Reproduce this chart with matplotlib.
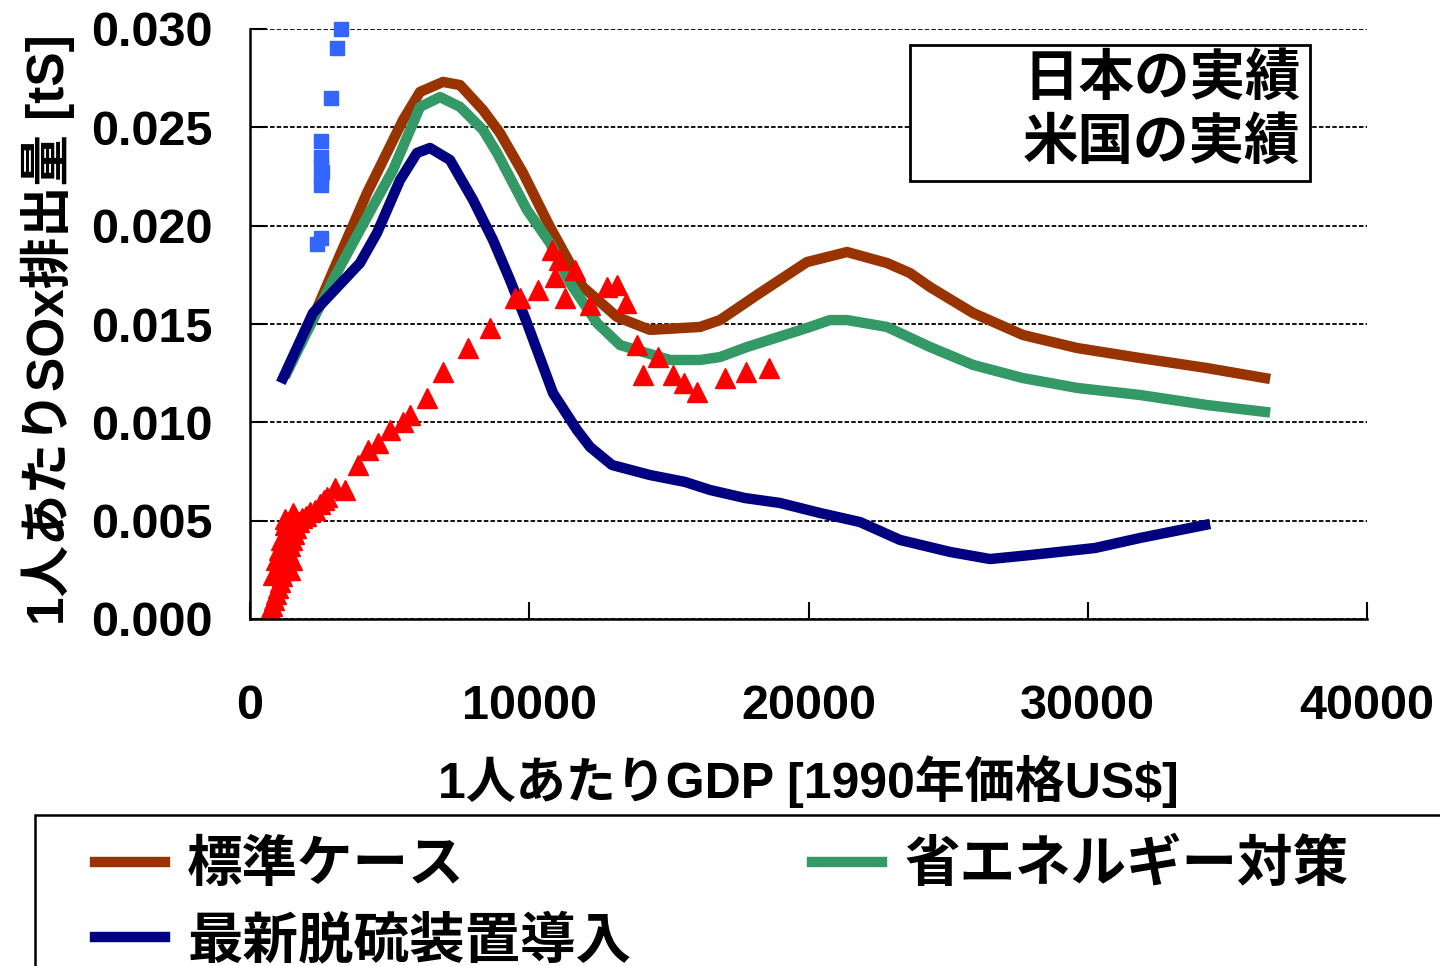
import matplotlib
matplotlib.use("Agg")
import matplotlib.pyplot as plt
from matplotlib.patches import Rectangle
from matplotlib.ticker import FormatStrFormatter

plt.rcParams["font.family"] = ["Liberation Sans", "Noto Sans CJK JP"]
plt.rcParams["font.weight"] = "bold"
plt.rcParams["axes.labelweight"] = "bold"

# ── model scenarios (GDP per capita, SOx per capita) ──
std_gdp = [1325, 2328, 3223, 4190, 5479, 6088, 6911, 7520, 8344, 8953, 9776, 10743,
           11925, 13142, 14324, 16115, 16831, 18264, 19946, 21379, 22811, 23635,
           24351, 25891, 27682, 29615, 31871, 34270, 36347]
std_sox = [0.01256, 0.01556, 0.01851, 0.02166, 0.02537, 0.02680, 0.02731, 0.02715,
           0.02588, 0.02471, 0.02268, 0.01993, 0.01688, 0.01536, 0.01470, 0.01485,
           0.01520, 0.01658, 0.01815, 0.01866, 0.01810, 0.01759, 0.01688, 0.01556,
           0.01444, 0.01378, 0.01327, 0.01276, 0.01225]

save_gdp = [1325, 2972, 4190, 5121, 6088, 6804, 7520, 8344, 8845, 9919, 10743, 11459,
            12426, 13250, 15040, 16115, 16831, 17798, 19946, 20770, 21379, 22811,
            24351, 25891, 27682, 29615, 31871, 34270, 36347]
save_sox = [0.01256, 0.01724, 0.02044, 0.02283, 0.02604, 0.02654, 0.02604, 0.02487,
            0.02370, 0.02080, 0.01912, 0.01709, 0.01505, 0.01393, 0.01317, 0.01317,
            0.01332, 0.01383, 0.01480, 0.01520, 0.01520, 0.01485, 0.01383, 0.01292,
            0.01225, 0.01175, 0.01139, 0.01088, 0.01053]

desulf_gdp = [1182, 2256, 3939, 4548, 5372, 5980, 6446, 7162, 7986, 8702, 9311, 9919,
              10850, 11710, 12175, 12963, 14324, 15577, 16473, 17726, 18979, 20412,
              21844, 23277, 25067, 26500, 27932, 30260, 31871, 34199]
desulf_sox = [0.01225, 0.01556, 0.01810, 0.01963, 0.02232, 0.02370, 0.02395, 0.02334,
              0.02131, 0.01927, 0.01724, 0.01505, 0.01149, 0.00961, 0.00875, 0.00783,
              0.00732, 0.00697, 0.00656, 0.00615, 0.00590, 0.00539, 0.00493, 0.00402,
              0.00341, 0.00305, 0.00325, 0.00361, 0.00412, 0.00478]

# ── observed (red triangles / blue squares) ──
jp_gdp = [716, 788, 859, 931, 1003, 1074, 1146, 1182, 1253, 1289, 1361, 1182, 1432,
          1504, 1110, 1361, 1576, 1647, 1253, 1755, 1862, 1540, 2005, 2149, 2328,
          2507, 2650, 2757, 3044, 3402, 3867, 4226, 4584, 5013, 5479, 5730, 6338,
          6911, 7806, 8594, 9490, 9669, 10313, 10815, 11065, 11638, 10922, 11280,
          12175, 12784, 13142, 13465, 13858, 14610, 14073, 15148, 15541, 16007,
          17010, 17762, 18586, 760, 824, 1432, 1504, 931, 1040, 1610, 1250]
jp_sox = [0.00046, 0.00066, 0.00097, 0.00127, 0.00158, 0.00188, 0.00219, 0.00249,
          0.00280, 0.00310, 0.00341, 0.00361, 0.00371, 0.00402, 0.00402, 0.00432,
          0.00432, 0.00463, 0.00478, 0.00493, 0.00514, 0.00539, 0.00524, 0.00544,
          0.00554, 0.00585, 0.00605, 0.00620, 0.00666, 0.00656, 0.00783, 0.00859,
          0.00895, 0.00961, 0.01002, 0.01037, 0.01124, 0.01256, 0.01378, 0.01480,
          0.01632, 0.01632, 0.01673, 0.01876, 0.01826, 0.01775, 0.01739, 0.01632,
          0.01597, 0.01688, 0.01698, 0.01607, 0.01393, 0.01332, 0.01241, 0.01241,
          0.01200, 0.01154, 0.01225, 0.01256, 0.01276, 0.00030, 0.00224, 0.00249,
          0.00300, 0.00300, 0.00350, 0.00520, 0.00510]

us_gdp = [3259, 3115, 2901, 2543, 2543, 2543, 2578, 2543, 2543, 2543, 2399]
us_sox = [0.03000, 0.02904, 0.02649, 0.02431, 0.02349, 0.02309, 0.02273, 0.02243,
          0.02207, 0.01937, 0.01907]

fig = plt.figure(figsize=(14.4, 9.66), dpi=100)
ax = fig.add_axes([250 / 1440, 1 - 619 / 966, 1117 / 1440, 590 / 966])

l_std, = ax.plot(std_gdp, std_sox, color="#993300", lw=7.5, solid_joinstyle="round")
l_save, = ax.plot(save_gdp, save_sox, color="#339966", lw=7.5, solid_joinstyle="round")
l_des, = ax.plot(desulf_gdp, desulf_sox, color="#000080", lw=7.5, solid_joinstyle="round")
p_jp, = ax.plot(jp_gdp, jp_sox, ls="none", marker="^", ms=14, color="#ff0000", mec="#ff0000")
p_us, = ax.plot(us_gdp, us_sox, ls="none", marker="s", ms=10.5, color="#3366ff",
                mec="#3366ff", clip_on=False)

ax.set_xlim(0, 40000)
ax.set_ylim(0, 0.030)
ax.set_xticks([0, 10000, 20000, 30000, 40000])
ax.set_yticks([0, 0.005, 0.010, 0.015, 0.020, 0.025, 0.030])
ax.yaxis.set_major_formatter(FormatStrFormatter("%.3f"))
ax.xaxis.set_major_formatter(FormatStrFormatter("%d"))
ax.tick_params(direction="in", length=12, width=1.5, labelsize=35)
ax.tick_params(axis="x", pad=47)
ax.tick_params(axis="y", pad=27)
ax.grid(axis="y", color="black", ls=(0, (2.5, 1.2)), lw=1.3)
ax.set_axisbelow(True)
for side in ("top", "right"):
    ax.spines[side].set_visible(False)
for side in ("left", "bottom"):
    ax.spines[side].set_linewidth(1.8)

ax.set_xlabel("1人あたりGDP [1990年価格US$]", fontsize=36, fontweight="bold")
ax.xaxis.set_label_coords(0.5, -0.23)
ax.set_ylabel("1人あたりSOx排出量 [tS]", fontsize=37, fontweight="bold")
ax.yaxis.set_label_coords(-0.157, 0.49)

# observed-data legend (markers are not shown in the original)
leg = ax.legend([p_jp, p_us], ["日本の実績", "米国の実績"], loc="upper right",
                bbox_to_anchor=(0.949, 0.973), borderaxespad=0, fontsize=40,
                fancybox=False, edgecolor="black", framealpha=1,
                handlelength=1.57, handletextpad=0.29, borderpad=0.17, labelspacing=0.2)
leg.get_frame().set_linewidth(2)
for h in leg.legend_handles:
    h.set_visible(False)

# scenario legend under the chart, frame runs off the figure edge
fig.add_artist(Rectangle((35 / 1440, -0.1), 1.2, 0.1 + 1 - 815 / 966,
                         transform=fig.transFigure, fc="white", ec="black", lw=1.8))
fig.legend([l_std, l_des, l_save], ["標準ケース", "最新脱硫装置導入", "省エネルギー対策"],
           ncol=2, loc="upper left", bbox_to_anchor=(95 / 1440, 1 - 840 / 966),
           frameon=False, fontsize=40, borderpad=0, borderaxespad=0,
           handlelength=1.26, handletextpad=0.4, labelspacing=0.41, columnspacing=3.26)

fig.savefig("out.png", dpi=100)
